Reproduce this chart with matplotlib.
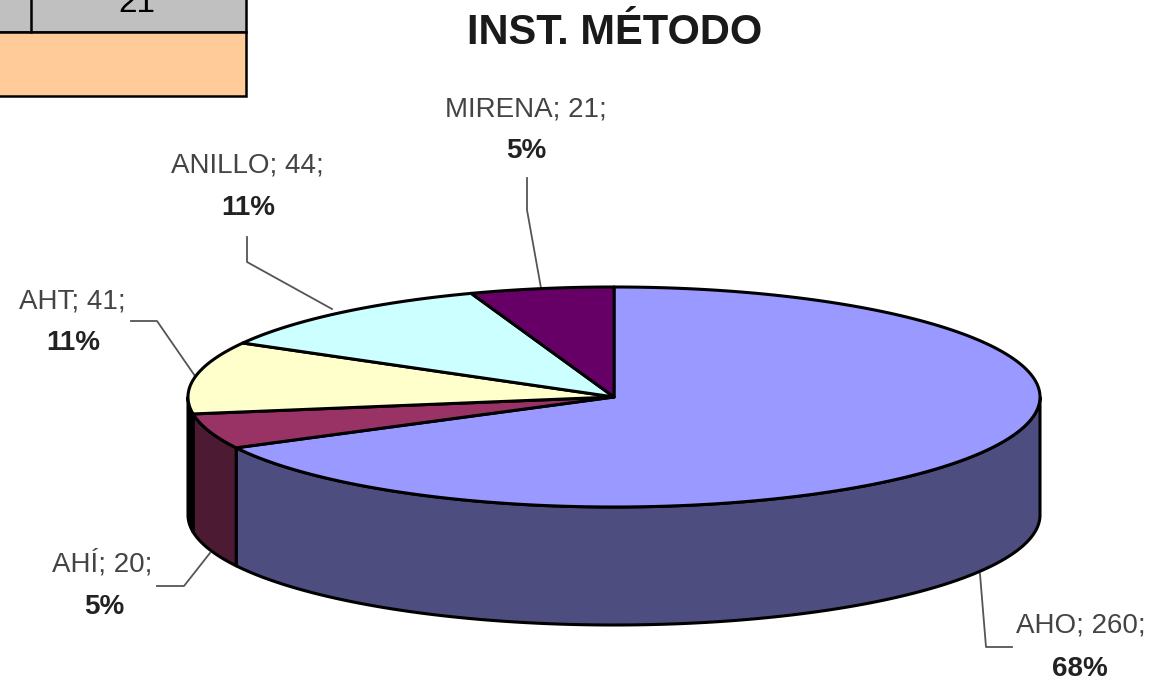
import numpy as np
import matplotlib
matplotlib.use('Agg')
import matplotlib.pyplot as plt

# data
metodos = ['AHO', 'AHÍ', 'AHT', 'ANILLO', 'MIRENA']
valores = [260, 20, 41, 44, 21]
porcentajes = ['68%', '5%', '11%', '11%', '5%']
colores_top = ['#9999FF', '#993366', '#FFFFCC', '#CCFFFF', '#660066']
colores_lado = ['#4D4D80', '#4D1A33', '#000000', '#668080', '#330033']
titulo = 'INST. MÉTODO'
celda_tabla = '21'

W, H = 1163, 681
plt.rcParams['font.family'] = ['Liberation Sans', 'DejaVu Sans']
fig = plt.figure(figsize=(W / 100, H / 100), dpi=100)
ax = fig.add_axes([0, 0, 1, 1])
ax.set_xlim(0, W)
ax.set_ylim(H, 0)
ax.axis('off')

# geometria del pastel
cx, cy, rx, ry, alto = 614, 397, 426, 110, 118


def borde(t):
    return cx + rx * np.sin(t), cy - ry * np.cos(t)


limites = np.cumsum([0] + valores) / sum(valores) * 2 * np.pi

# paredes laterales (solo la mitad frontal)
for i in range(len(valores)):
    a, b = max(limites[i], np.pi / 2), min(limites[i + 1], 3 * np.pi / 2)
    if a >= b:
        continue
    t = np.linspace(a, b, 200)
    x, y = borde(t)
    ax.fill(np.r_[x, x[::-1]], np.r_[y, y[::-1] + alto], fc=colores_lado[i],
            ec='black', lw=2.2, joinstyle='round', zorder=2)

# rebanadas de arriba
for i in range(len(valores)):
    t = np.linspace(limites[i], limites[i + 1], 200)
    x, y = borde(t)
    ax.fill(np.r_[cx, x], np.r_[cy, y], fc=colores_top[i], ec='black', lw=2.2,
            joinstyle='round', zorder=3)

# lineas guia
guias = [
    [(1012, 647), (986, 647), (980, 574)],
    [(157, 586), (184, 586), (210, 553)],
    [(131, 321), (157, 321), (195, 376)],
    [(247, 237), (247, 262), (332, 309)],
    [(527, 178), (527, 210), (541, 288)],
]
for g in guias:
    xs, ys = zip(*g)
    ax.plot(xs, ys, color='#555555', lw=1.3, zorder=1)

# etiquetas
pos_etq = [(1081, 626), (102, 564), (72, 302), (247, 166), (526, 110)]
pos_pct = [(1080, 669), (104, 607), (73, 343), (248, 208), (526, 151)]
for i in range(len(valores)):
    ax.text(*pos_etq[i], f'{metodos[i]}; {valores[i]};', fontsize=20, color='#444444',
            ha='center', va='center')
    ax.text(*pos_pct[i], porcentajes[i], fontsize=20, fontweight='bold', color='#222222',
            ha='center', va='center')

ax.text(615, 33, titulo, fontsize=30, fontweight='bold', color='#1a1a1a', ha='center', va='center')

# tabla recortada arriba a la izquierda
ax.add_patch(plt.Rectangle((-5, -5), 251, 37, fc='#C0C0C0', ec='black', lw=1.8, zorder=4))
ax.add_patch(plt.Rectangle((-5, 32), 251, 64, fc='#FFCC99', ec='black', lw=1.8, zorder=4))
ax.plot([31, 31], [-5, 32], color='black', lw=1.8, zorder=5)
ax.text(137, 4, celda_tabla, fontsize=24, color='black', ha='center', va='center', zorder=5)

fig.savefig('out.png', dpi=100)
